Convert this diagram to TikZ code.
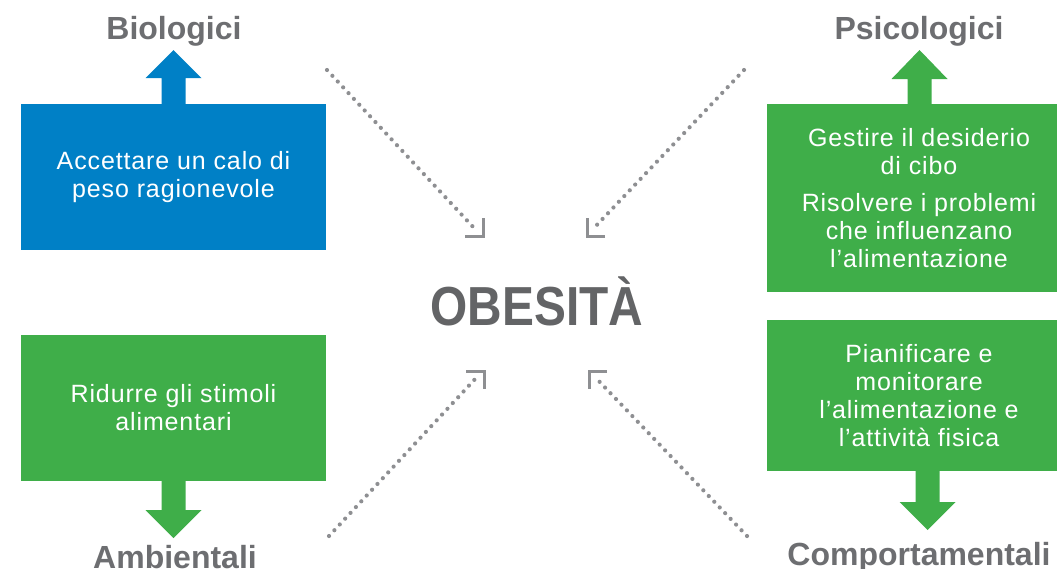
\documentclass[tikz,border=0pt]{standalone}
\usepackage{fontspec}
\setmainfont{Liberation Sans}
\newfontfamily\obesfont{Liberation Sans}[FakeStretch=0.87]
\newfontfamily\bodyfont{Liberation Sans}[LetterSpace=3.5]
\usetikzlibrary{calc}
\definecolor{bluec}{HTML}{0080C6}
\definecolor{greenc}{HTML}{3FAE49}
\definecolor{titlegray}{HTML}{6D6E71}
\definecolor{obesgray}{HTML}{636466}
\definecolor{dotgray}{HTML}{8E8F92}
\tikzset{
  box/.style={inner sep=0pt, outer sep=0pt, text=white, align=center,
    font=\bodyfont\fontsize{25}{28}\selectfont},
  bluebox/.style={box, fill=bluec},
  greenbox/.style={box, fill=greenc},
  title/.style={anchor=base, inner sep=0pt, text=titlegray,
    font=\fontsize{32}{34}\selectfont\bfseries},
  dotline/.style={dotgray, line width=4.2pt, line cap=round, dash pattern=on 0pt off 7.9pt},
  ltip/.style={dotgray, line width=3pt, line cap=butt, line join=miter},
}
\begin{document}
\begin{tikzpicture}[x=1pt,y=-1pt]
\useasboundingbox (0,0) rectangle (1057,568);

% boxes
\node[bluebox, minimum width=305pt, minimum height=146pt] (bbio) at (173.5,177)
  {Accettare un calo di\\peso ragionevole};
\node[greenbox, minimum width=304pt, minimum height=188pt] (bpsi) at (919,198)
  {Gestire il desiderio\\di cibo\\[9pt]Risolvere i problemi\\che influenzano\\l’alimentazione};
\node[greenbox, minimum width=305pt, minimum height=146pt] (bamb) at (173.5,408)
  {Ridurre gli stimoli\\alimentari};
\node[greenbox, minimum width=304pt, minimum height=151pt] (bcomp) at (919,395.5)
  {Pianificare e\\monitorare\\l’alimentazione e\\l’attività fisica};

% block arrows
\fill[bluec] ($(bbio.north)+(-12,0)$) -- ++(0,-26) -- ++(-16,0) -- ++(28,-28)
  -- ++(28,28) -- ++(-16,0) -- ++(0,26) -- cycle;
\fill[greenc] ($(bpsi.north)+(-11.5,0)$) -- ++(0,-25) -- ++(-16,0) -- ++(28,-29)
  -- ++(28,29) -- ++(-16,0) -- ++(0,25) -- cycle;
\fill[greenc] ($(bamb.south)+(-12,0)$) -- ++(0,29) -- ++(-16,0) -- ++(28,28)
  -- ++(28,-28) -- ++(-16,0) -- ++(0,-29) -- cycle;
\fill[greenc] ($(bcomp.south)+(-3.5,0)$) -- ++(0,31) -- ++(-16,0) -- ++(28,28)
  -- ++(28,-28) -- ++(-16,0) -- ++(0,-31) -- cycle;

% titles
\node[title] (bio) at (174,39) {Biologici};
\node[title] (psi) at (919,39) {Psicologici};
\node[title] (amb) at (175,568) {Ambientali};
\node[title] (comp) at (919,565) {Comportamentali};

% centre
\node[anchor=base, inner sep=0pt, text=obesgray, font=\obesfont\fontsize{55}{60}\selectfont\bfseries]
  (obes) at (537,325) {OBESITÀ};

% dotted connectors
\coordinate (tls) at (327,70);   \coordinate (tle) at (475,229);  \coordinate (tlc) at (483,236);
\coordinate (trs) at (744,70);   \coordinate (tre) at (593,229);  \coordinate (trc) at (587,236);
\coordinate (bls) at (329,536);  \coordinate (ble) at (477,377);  \coordinate (blc) at (484,371);
\coordinate (brs) at (747,536);  \coordinate (bre) at (595,377);  \coordinate (brc) at (589,371);

\draw[dotline] (tls) -- (tle);
\draw[dotline] (trs) -- (tre);
\draw[dotline] (bls) -- (ble);
\draw[dotline] (brs) -- (bre);

\draw[ltip] ($(tlc)+(-18,0)$) -- (tlc) -- ++(0,-18);
\draw[ltip] ($(trc)+(18,0)$) -- (trc) -- ++(0,-18);
\draw[ltip] ($(blc)+(-18,0)$) -- (blc) -- ++(0,18);
\draw[ltip] ($(brc)+(18,0)$) -- (brc) -- ++(0,18);
\end{tikzpicture}
\end{document}
